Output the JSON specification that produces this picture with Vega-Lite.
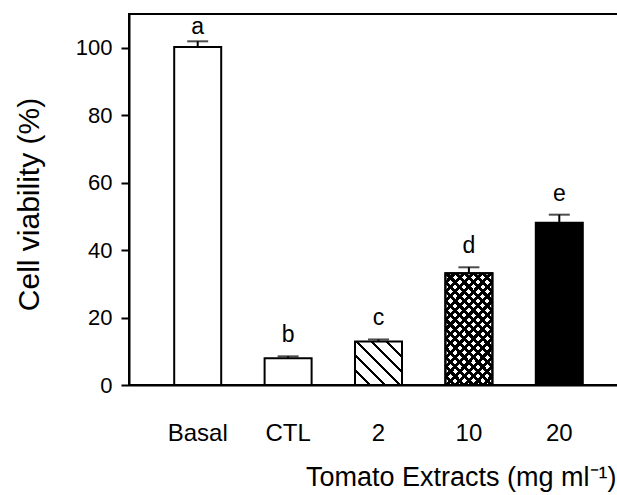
{
  "$schema": "https://vega.github.io/schema/vega-lite/v6.json",
  "autosize": {"type": "none"},
  "padding": {"left": 129, "top": 14, "right": 0, "bottom": 110},
  "width": 499,
  "height": 371,
  "background": "white",
  "config": {
    "view": {"stroke": "black", "strokeWidth": 2},
    "font": "Liberation Sans"
  },
  "data": {"values": [
    {"group": "Basal", "viability": 100.2, "upper": 101.9, "letter": "a"},
    {"group": "CTL", "viability": 7.9, "upper": 8.5, "letter": "b"},
    {"group": "2", "viability": 12.9, "upper": 13.5, "letter": "c"},
    {"group": "10", "viability": 33.1, "upper": 34.9, "letter": "d"},
    {"group": "20", "viability": 48.1, "upper": 50.5, "letter": "e"}
  ]},
  "encoding": {
    "x": {
      "field": "group", "type": "nominal",
      "scale": {"domain": ["Basal", "CTL", "2", "10", "20"], "paddingInner": 0.48, "paddingOuter": 0.5},
      "axis": {
        "labelAngle": 0, "labelFont": "Liberation Sans", "labelFontSize": 24, "labelColor": "black",
        "labelPadding": 36, "ticks": false, "domainColor": "black", "domainWidth": 2,
        "title": "Tomato Extracts (mg ml⁻¹)", "titleFont": "Liberation Sans", "titleFontSize": 27,
        "titleFontWeight": "normal", "titleColor": "black", "titleAlign": "right", "titleAnchor": "end",
        "titleX": 487, "titleY": 100, "titleBaseline": "alphabetic"
      }
    }
  },
  "layer": [
    {
      "mark": {"type": "rule", "color": "black", "strokeWidth": 2},
      "encoding": {
        "y": {"field": "viability", "type": "quantitative", "scale": {"domain": [0, 110], "nice": false},
          "axis": {
            "values": [0, 10, 20, 30, 40, 50, 60, 70, 80, 90, 100],
            "labelExpr": "datum.value % 20 === 0 ? datum.label : ''",
            "grid": false, "domainColor": "black", "domainWidth": 2,
            "tickColor": "black", "tickWidth": 2,
            "tickSize": {"condition": {"test": "datum.value % 20 === 0", "value": 8}, "value": 6},
            "labelFont": "Liberation Sans", "labelFontSize": 22, "labelColor": "black", "labelPadding": 9,
            "title": "Cell viability (%)", "titleFont": "Liberation Sans", "titleFontSize": 30,
            "titleFontWeight": "normal", "titleColor": "black",
            "titleX": -100, "titleY": 190, "titleAlign": "center", "titleBaseline": "middle", "titleAngle": -90
          }
        },
        "y2": {"field": "upper"}
      }
    },
    {
      "mark": {"type": "tick", "color": "black", "orient": "horizontal", "size": 21, "thickness": 2},
      "encoding": {"y": {"field": "upper", "type": "quantitative"}}
    },
    {
      "transform": [{"filter": "datum.group === 'Basal' || datum.group === 'CTL'"}],
      "mark": {"type": "bar", "fill": "white", "stroke": "black", "strokeWidth": 2},
      "encoding": {"y": {"field": "viability", "type": "quantitative"}}
    },
    {
      "transform": [{"filter": "datum.group === '2'"}],
      "mark": {"type": "bar", "stroke": "black", "strokeWidth": 2,
        "fill": {"gradient": "linear", "x1": 0, "y1": 1, "x2": 1.03, "y2": 0.046, "stops": [
          {"offset": 0, "color": "#fff"}, {"offset": 0.149, "color": "#fff"}, {"offset": 0.149, "color": "#000"},
          {"offset": 0.184, "color": "#000"}, {"offset": 0.184, "color": "#fff"}, {"offset": 0.316, "color": "#fff"},
          {"offset": 0.316, "color": "#000"}, {"offset": 0.351, "color": "#000"}, {"offset": 0.351, "color": "#fff"},
          {"offset": 0.4825, "color": "#fff"}, {"offset": 0.4825, "color": "#000"}, {"offset": 0.5175, "color": "#000"},
          {"offset": 0.5175, "color": "#fff"}, {"offset": 0.649, "color": "#fff"}, {"offset": 0.649, "color": "#000"},
          {"offset": 0.684, "color": "#000"}, {"offset": 0.684, "color": "#fff"}, {"offset": 0.816, "color": "#fff"},
          {"offset": 0.816, "color": "#000"}, {"offset": 0.851, "color": "#000"}, {"offset": 0.851, "color": "#fff"},
          {"offset": 1, "color": "#fff"}
        ]}},
      "encoding": {"y": {"field": "viability", "type": "quantitative"}}
    },
    {
      "transform": [{"filter": "datum.group === '10'"}],
      "mark": {"type": "bar", "stroke": "black", "strokeWidth": 2,
        "fill": {"gradient": "linear", "x1": 0, "y1": 1, "x2": 0.519, "y2": -0.207, "stops": [
          {"offset": 0, "color": "#000"}, {"offset": 0.0132, "color": "#000"}, {"offset": 0.0132, "color": "#fff"},
          {"offset": 0.0456, "color": "#fff"}, {"offset": 0.0456, "color": "#000"}, {"offset": 0.0721, "color": "#000"}, {"offset": 0.0721, "color": "#fff"},
          {"offset": 0.1044, "color": "#fff"}, {"offset": 0.1044, "color": "#000"}, {"offset": 0.1309, "color": "#000"}, {"offset": 0.1309, "color": "#fff"},
          {"offset": 0.1632, "color": "#fff"}, {"offset": 0.1632, "color": "#000"}, {"offset": 0.1897, "color": "#000"}, {"offset": 0.1897, "color": "#fff"},
          {"offset": 0.2221, "color": "#fff"}, {"offset": 0.2221, "color": "#000"}, {"offset": 0.2485, "color": "#000"}, {"offset": 0.2485, "color": "#fff"},
          {"offset": 0.2809, "color": "#fff"}, {"offset": 0.2809, "color": "#000"}, {"offset": 0.3074, "color": "#000"}, {"offset": 0.3074, "color": "#fff"},
          {"offset": 0.3397, "color": "#fff"}, {"offset": 0.3397, "color": "#000"}, {"offset": 0.3662, "color": "#000"}, {"offset": 0.3662, "color": "#fff"},
          {"offset": 0.3985, "color": "#fff"}, {"offset": 0.3985, "color": "#000"}, {"offset": 0.425, "color": "#000"}, {"offset": 0.425, "color": "#fff"},
          {"offset": 0.4574, "color": "#fff"}, {"offset": 0.4574, "color": "#000"}, {"offset": 0.4838, "color": "#000"}, {"offset": 0.4838, "color": "#fff"},
          {"offset": 0.5162, "color": "#fff"}, {"offset": 0.5162, "color": "#000"}, {"offset": 0.5426, "color": "#000"}, {"offset": 0.5426, "color": "#fff"},
          {"offset": 0.575, "color": "#fff"}, {"offset": 0.575, "color": "#000"}, {"offset": 0.6015, "color": "#000"}, {"offset": 0.6015, "color": "#fff"},
          {"offset": 0.6338, "color": "#fff"}, {"offset": 0.6338, "color": "#000"}, {"offset": 0.6603, "color": "#000"}, {"offset": 0.6603, "color": "#fff"},
          {"offset": 0.6926, "color": "#fff"}, {"offset": 0.6926, "color": "#000"}, {"offset": 0.7191, "color": "#000"}, {"offset": 0.7191, "color": "#fff"},
          {"offset": 0.7515, "color": "#fff"}, {"offset": 0.7515, "color": "#000"}, {"offset": 0.7779, "color": "#000"}, {"offset": 0.7779, "color": "#fff"},
          {"offset": 0.8103, "color": "#fff"}, {"offset": 0.8103, "color": "#000"}, {"offset": 0.8368, "color": "#000"}, {"offset": 0.8368, "color": "#fff"},
          {"offset": 0.8691, "color": "#fff"}, {"offset": 0.8691, "color": "#000"}, {"offset": 0.8956, "color": "#000"}, {"offset": 0.8956, "color": "#fff"},
          {"offset": 0.9279, "color": "#fff"}, {"offset": 0.9279, "color": "#000"}, {"offset": 0.9544, "color": "#000"}, {"offset": 0.9544, "color": "#fff"},
          {"offset": 0.9868, "color": "#fff"}, {"offset": 0.9868, "color": "#000"}, {"offset": 1, "color": "#000"}
        ]}},
      "encoding": {"y": {"field": "viability", "type": "quantitative"}}
    },
    {
      "transform": [{"filter": "datum.group === '10'"}],
      "mark": {"type": "bar", "stroke": "black", "strokeWidth": 2,
        "fill": {"gradient": "linear", "x1": 0, "y1": 0, "x2": 0.519, "y2": 1.207, "stops": [
          {"offset": 0, "color": "#000"}, {"offset": 0.0132, "color": "#000"}, {"offset": 0.0132, "color": "rgba(0,0,0,0)"},
          {"offset": 0.0456, "color": "rgba(0,0,0,0)"}, {"offset": 0.0456, "color": "#000"}, {"offset": 0.0721, "color": "#000"}, {"offset": 0.0721, "color": "rgba(0,0,0,0)"},
          {"offset": 0.1044, "color": "rgba(0,0,0,0)"}, {"offset": 0.1044, "color": "#000"}, {"offset": 0.1309, "color": "#000"}, {"offset": 0.1309, "color": "rgba(0,0,0,0)"},
          {"offset": 0.1632, "color": "rgba(0,0,0,0)"}, {"offset": 0.1632, "color": "#000"}, {"offset": 0.1897, "color": "#000"}, {"offset": 0.1897, "color": "rgba(0,0,0,0)"},
          {"offset": 0.2221, "color": "rgba(0,0,0,0)"}, {"offset": 0.2221, "color": "#000"}, {"offset": 0.2485, "color": "#000"}, {"offset": 0.2485, "color": "rgba(0,0,0,0)"},
          {"offset": 0.2809, "color": "rgba(0,0,0,0)"}, {"offset": 0.2809, "color": "#000"}, {"offset": 0.3074, "color": "#000"}, {"offset": 0.3074, "color": "rgba(0,0,0,0)"},
          {"offset": 0.3397, "color": "rgba(0,0,0,0)"}, {"offset": 0.3397, "color": "#000"}, {"offset": 0.3662, "color": "#000"}, {"offset": 0.3662, "color": "rgba(0,0,0,0)"},
          {"offset": 0.3985, "color": "rgba(0,0,0,0)"}, {"offset": 0.3985, "color": "#000"}, {"offset": 0.425, "color": "#000"}, {"offset": 0.425, "color": "rgba(0,0,0,0)"},
          {"offset": 0.4574, "color": "rgba(0,0,0,0)"}, {"offset": 0.4574, "color": "#000"}, {"offset": 0.4838, "color": "#000"}, {"offset": 0.4838, "color": "rgba(0,0,0,0)"},
          {"offset": 0.5162, "color": "rgba(0,0,0,0)"}, {"offset": 0.5162, "color": "#000"}, {"offset": 0.5426, "color": "#000"}, {"offset": 0.5426, "color": "rgba(0,0,0,0)"},
          {"offset": 0.575, "color": "rgba(0,0,0,0)"}, {"offset": 0.575, "color": "#000"}, {"offset": 0.6015, "color": "#000"}, {"offset": 0.6015, "color": "rgba(0,0,0,0)"},
          {"offset": 0.6338, "color": "rgba(0,0,0,0)"}, {"offset": 0.6338, "color": "#000"}, {"offset": 0.6603, "color": "#000"}, {"offset": 0.6603, "color": "rgba(0,0,0,0)"},
          {"offset": 0.6926, "color": "rgba(0,0,0,0)"}, {"offset": 0.6926, "color": "#000"}, {"offset": 0.7191, "color": "#000"}, {"offset": 0.7191, "color": "rgba(0,0,0,0)"},
          {"offset": 0.7515, "color": "rgba(0,0,0,0)"}, {"offset": 0.7515, "color": "#000"}, {"offset": 0.7779, "color": "#000"}, {"offset": 0.7779, "color": "rgba(0,0,0,0)"},
          {"offset": 0.8103, "color": "rgba(0,0,0,0)"}, {"offset": 0.8103, "color": "#000"}, {"offset": 0.8368, "color": "#000"}, {"offset": 0.8368, "color": "rgba(0,0,0,0)"},
          {"offset": 0.8691, "color": "rgba(0,0,0,0)"}, {"offset": 0.8691, "color": "#000"}, {"offset": 0.8956, "color": "#000"}, {"offset": 0.8956, "color": "rgba(0,0,0,0)"},
          {"offset": 0.9279, "color": "rgba(0,0,0,0)"}, {"offset": 0.9279, "color": "#000"}, {"offset": 0.9544, "color": "#000"}, {"offset": 0.9544, "color": "rgba(0,0,0,0)"},
          {"offset": 0.9868, "color": "rgba(0,0,0,0)"}, {"offset": 0.9868, "color": "#000"}, {"offset": 1, "color": "#000"}
        ]}},
      "encoding": {"y": {"field": "viability", "type": "quantitative"}}
    },
    {
      "transform": [{"filter": "datum.group === '20'"}],
      "mark": {"type": "bar", "fill": "black", "stroke": "black", "strokeWidth": 2},
      "encoding": {"y": {"field": "viability", "type": "quantitative"}}
    },
    {
      "transform": [{"filter": "datum.group !== 'Basal'"}],
      "mark": {"type": "text", "font": "Liberation Sans", "fontSize": 23, "color": "black", "baseline": "middle", "dy": -21},
      "encoding": {"y": {"field": "upper", "type": "quantitative"}, "text": {"field": "letter"}}
    },
    {
      "transform": [{"filter": "datum.group === 'Basal'"}],
      "mark": {"type": "text", "font": "Liberation Sans", "fontSize": 23, "color": "black", "baseline": "middle", "dy": -14},
      "encoding": {"y": {"field": "upper", "type": "quantitative"}, "text": {"field": "letter"}}
    }
  ]
}
